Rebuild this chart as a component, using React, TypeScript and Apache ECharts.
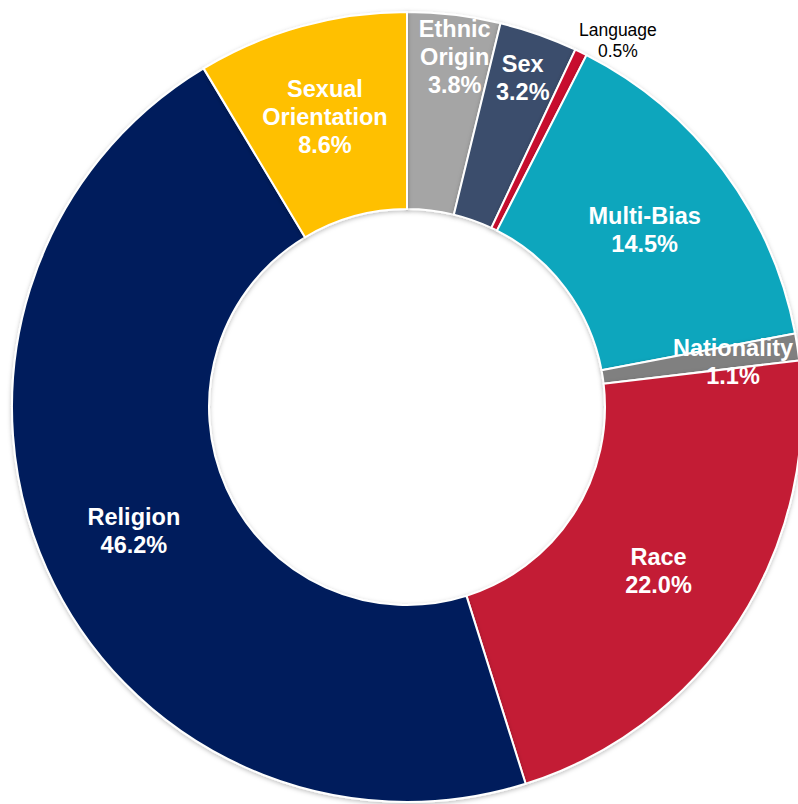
import React, { useEffect, useRef } from "react";
import * as echarts from "echarts";

const categories = [
  "Ethnic\nOrigin",
  "Sex",
  "Language",
  "Multi-Bias",
  "Nationality",
  "Race",
  "Religion",
  "Sexual\nOrientation",
];
const values = [3.8, 3.2, 0.5, 14.5, 1.1, 22.0, 46.2, 8.6];
const colors = [
  "#A5A5A5",
  "#3A4E6C",
  "#C8102E",
  "#10A6BD",
  "#808080",
  "#C31F35",
  "#001F5B",
  "#FFC000",
];
const labelOffsets: number[][] = [
  [12, -53],
  [16, -47],
  [79, -98],
  [-2, 3],
  [30, 1],
  [0, 1],
  [0, 1],
  [-2, -1],
];

export default function App() {
  const ref = useRef<HTMLDivElement>(null);
  useEffect(() => {
    if (!ref.current) return;
    const chart = echarts.init(ref.current, null, { renderer: "svg" });
    const data = categories.map((name, i) => {
      const isLanguage = name === "Language";
      return {
        name,
        value: values[i],
        itemStyle: { color: colors[i] },
        label: isLanguage
          ? {
              color: "#000000",
              fontWeight: "normal",
              fontSize: 17.5,
              lineHeight: 21,
              offset: labelOffsets[i],
            }
          : { offset: labelOffsets[i] },
      };
    });
    chart.setOption({
      animation: false,
      backgroundColor: "#ffffff",
      series: [
        {
          type: "pie",
          center: [407, 407],
          radius: [198, 395],
          startAngle: 90,
          clockwise: true,
          avoidLabelOverlap: false,
          itemStyle: {
            borderColor: "#ffffff",
            borderWidth: 2,
            shadowBlur: 4,
            shadowOffsetY: 1.5,
            shadowColor: "rgba(0,0,0,0.25)",
          },
          label: {
            show: true,
            position: "inside",
            color: "#ffffff",
            fontFamily: "Liberation Sans, Arial, sans-serif",
            fontWeight: "bold",
            fontSize: 23.5,
            lineHeight: 28,
            align: "center",
            formatter: (p: any) => `${p.name}\n${Number(p.value).toFixed(1)}%`,
          },
          labelLine: { show: false },
          emphasis: { disabled: true },
          data,
        },
      ],
    });
    return () => chart.dispose();
  }, []);
  return (
    <div
      ref={ref}
      style={{ position: "absolute", left: 0, top: 0, width: 798, height: 804 }}
    />
  );
}
